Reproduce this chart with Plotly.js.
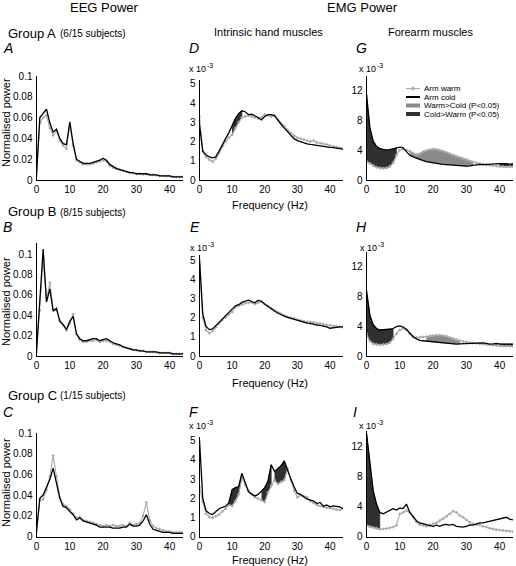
<!DOCTYPE html>
<html>
<head>
<meta charset="utf-8">
<script src="https://cdn.plot.ly/plotly-3.0.1.min.js"></script>
<style>html,body{margin:0;padding:0;background:#fff;}#chart{width:516px;height:566px;}</style>
</head>
<body>
<div id="chart"></div>
<script>
// Frequency bins (Hz)
const freq = [0,1,2,3,4,5,6,7,8,9,10,11,12,13,14,15,16,17,18,19,20,21,22,23,24,25,26,27,28,29,30,31,32,33,34,35,36,37,38,39,40,41,42,43,44];

// EEG power (normalised) — Group A
const eegA_warm = [0.005,0.055,0.06,0.062,0.05,0.043,0.047,0.038,0.033,0.03,0.053,0.033,0.019,0.017,0.015,0.015,0.015,0.016,0.017,0.018,0.019,0.018,0.014,0.012,0.011,0.01,0.009,0.008,0.007,0.0065,0.006,0.006,0.0055,0.0055,0.005,0.005,0.0045,0.004,0.004,0.0035,0.0035,0.003,0.003,0.003,0.003];
const eegA_cold = [0.005,0.06,0.064,0.068,0.055,0.046,0.049,0.04,0.035,0.034,0.056,0.035,0.02,0.018,0.016,0.016,0.016,0.017,0.018,0.019,0.021,0.019,0.015,0.013,0.011,0.01,0.009,0.008,0.007,0.007,0.006,0.006,0.006,0.006,0.005,0.005,0.005,0.004,0.004,0.004,0.004,0.003,0.003,0.003,0.003];
// Group B
const eegB_warm = [0.004,0.045,0.095,0.055,0.072,0.046,0.045,0.035,0.03,0.025,0.032,0.041,0.021,0.016,0.014,0.014,0.015,0.015,0.016,0.014,0.015,0.015,0.014,0.012,0.011,0.01,0.009,0.008,0.007,0.006,0.0055,0.005,0.005,0.004,0.004,0.004,0.0035,0.003,0.003,0.003,0.003,0.002,0.002,0.002,0.002];
const eegB_cold = [0.004,0.05,0.105,0.053,0.066,0.044,0.047,0.034,0.031,0.026,0.034,0.039,0.022,0.017,0.015,0.015,0.016,0.017,0.017,0.015,0.016,0.017,0.015,0.013,0.012,0.011,0.009,0.008,0.007,0.006,0.006,0.005,0.005,0.004,0.004,0.004,0.004,0.003,0.003,0.003,0.003,0.002,0.002,0.002,0.002];
// Group C
const eegC_warm = [0.005,0.035,0.036,0.045,0.058,0.078,0.058,0.038,0.031,0.029,0.026,0.022,0.018,0.019,0.016,0.015,0.014,0.013,0.012,0.011,0.01,0.011,0.01,0.011,0.01,0.01,0.011,0.01,0.013,0.011,0.012,0.013,0.02,0.033,0.016,0.01,0.008,0.007,0.006,0.005,0.005,0.004,0.004,0.004,0.004];
const eegC_cold = [0.005,0.037,0.04,0.048,0.055,0.066,0.053,0.037,0.029,0.028,0.024,0.021,0.016,0.018,0.015,0.014,0.013,0.012,0.011,0.009,0.009,0.009,0.009,0.008,0.008,0.008,0.009,0.009,0.012,0.01,0.01,0.011,0.015,0.021,0.012,0.007,0.006,0.005,0.004,0.004,0.004,0.003,0.003,0.003,0.003];

// EMG power (x 10^-3) — intrinsic hand muscles
const handA_warm = [3.3,1.5,1.2,1.05,0.95,1.1,1.4,1.75,2.0,2.2,2.35,2.7,3.0,3.25,3.3,3.35,3.3,3.25,3.2,3.25,3.4,3.35,3.3,3.35,3.15,2.95,2.8,2.6,2.45,2.3,2.2,2.15,2.1,2.05,2.0,2.05,1.95,1.92,1.88,1.85,1.8,1.75,1.72,1.68,1.62];
const handA_cold = [2.85,1.5,1.3,1.2,1.15,1.2,1.5,1.85,2.15,2.45,2.8,3.2,3.45,3.6,3.55,3.4,3.42,3.35,3.25,3.12,3.3,3.4,3.4,3.35,3.1,2.9,2.7,2.5,2.3,2.15,2.05,1.98,1.93,1.88,1.85,1.82,1.8,1.78,1.75,1.72,1.7,1.68,1.65,1.62,1.6];
const handB_warm = [4.8,2.0,1.35,1.2,1.3,1.5,1.7,1.88,2.02,2.18,2.3,2.55,2.62,2.7,2.75,2.78,2.8,2.72,2.8,2.85,2.7,2.6,2.48,2.38,2.28,2.2,2.12,2.05,2.0,1.96,1.9,1.86,1.82,1.8,1.78,1.75,1.72,1.7,1.66,1.62,1.6,1.58,1.55,1.52,1.5];
const handB_cold = [5.1,2.2,1.55,1.38,1.42,1.6,1.75,1.92,2.1,2.28,2.45,2.62,2.68,2.8,2.85,2.92,2.85,2.78,2.92,2.85,2.72,2.58,2.45,2.35,2.25,2.15,2.08,2.02,1.97,1.92,1.85,1.8,1.76,1.72,1.7,1.65,1.62,1.6,1.57,1.52,1.45,1.48,1.5,1.52,1.52];
const handC_warm = [2.6,1.8,1.2,1.02,0.98,1.05,1.15,1.3,1.45,1.65,1.6,1.85,2.2,3.1,2.7,2.4,2.25,2.05,1.98,1.9,1.8,2.3,2.65,2.95,2.75,2.85,2.95,3.55,2.95,2.4,2.05,2.15,2.1,2.05,1.85,1.75,1.65,1.6,1.55,1.5,1.48,1.45,1.4,1.38,1.45];
const handC_cold = [5.05,2.0,1.35,1.2,1.15,1.3,1.45,1.52,1.58,1.75,2.45,2.55,2.6,3.3,2.85,2.35,2.2,2.12,2.2,2.35,2.55,2.9,3.75,3.4,3.55,3.7,3.95,3.45,3.0,2.6,2.25,2.2,2.05,1.95,1.9,1.85,1.72,1.78,1.58,1.65,1.55,1.6,1.58,1.55,1.45];

// EMG power (x 10^-3) — forearm muscles
const foreA_warm = [2.5,2.2,1.9,1.7,1.6,1.55,1.6,1.8,2.3,3.3,4.0,4.1,4.0,3.85,3.6,3.4,3.5,3.8,3.95,4.05,4.15,4.1,4.0,3.85,3.7,3.5,3.35,3.15,3.0,2.85,2.7,2.55,2.4,2.3,2.2,2.1,2.0,1.95,1.9,1.85,1.8,1.8,1.75,1.8,1.75];
const foreA_cold = [11.5,7.0,5.2,4.5,4.2,4.05,4.0,4.05,4.15,4.3,4.4,4.3,3.8,3.3,3.1,2.9,2.75,2.6,2.45,2.35,2.25,2.2,2.15,2.1,2.05,2.0,1.95,1.92,1.9,1.88,1.85,1.88,1.95,2.05,2.1,2.05,2.1,2.15,2.1,2.15,2.2,2.15,2.2,2.1,2.15];
const foreB_warm = [3.0,2.0,1.65,1.55,1.5,1.55,1.6,1.8,2.3,3.0,3.5,3.7,3.5,3.0,2.6,2.5,2.5,2.55,2.6,2.7,2.75,2.8,2.8,2.75,2.65,2.5,2.35,2.2,2.05,1.95,1.88,1.8,1.75,1.7,1.65,1.6,1.55,1.5,1.45,1.42,1.38,1.35,1.35,1.33,1.32];
const foreB_cold = [8.8,5.5,4.2,3.7,3.5,3.5,3.5,3.6,3.7,3.95,4.05,3.9,3.6,3.1,2.6,2.3,2.1,2.05,2.0,1.95,1.9,1.85,1.8,1.75,1.7,1.7,1.65,1.6,1.62,1.65,1.68,1.7,1.75,1.8,1.8,1.78,1.7,1.6,1.62,1.68,1.62,1.6,1.62,1.58,1.6];
const foreC_warm = [1.5,1.3,1.2,1.1,0.95,1.0,1.05,1.15,1.25,1.5,3.0,3.2,3.45,3.2,2.6,1.9,1.6,1.45,1.35,1.45,1.7,1.8,2.1,2.35,2.65,3.0,3.35,3.2,2.8,2.55,2.2,1.9,1.7,1.6,1.55,1.35,1.25,1.1,1.0,0.9,0.85,0.8,0.75,0.7,0.65];
const foreC_cold = [13.7,9.6,6.1,4.3,3.2,3.0,3.2,3.4,3.7,3.5,3.8,3.7,4.3,3.2,2.6,2.1,1.8,1.7,1.6,1.5,1.35,1.5,1.35,1.55,1.6,1.5,1.6,1.35,1.25,1.25,1.35,1.55,1.5,1.7,1.8,1.8,1.9,2.0,2.1,2.2,2.3,2.4,2.55,2.3,2.2];

// Significant frequency bands [startIndex, endIndex, direction]
const sigHandA = [[10,13,'cold']];
const sigHandB = [];
const sigHandC = [[9,13,'cold'],[19,22,'cold'],[23,27,'cold']];
const sigForeA = [[0,9,'cold'],[13,32,'warm'],[40,44,'cold']];
const sigForeB = [[0,8,'cold'],[18,28,'warm'],[40,44,'cold']];
const sigForeC = [[0,4,'cold']];

// Tick values / labels
const xTicks = [0,10,20,30,40];
const eegTicks = [0,0.02,0.04,0.06,0.08,0.1];
const eegTickText = ['0','0.02','0.04','0.06','0.08','0.1'];
const handTicks = [0,1,2,3,4,5];
const foreTicks = [0,4,8,12];

const legendLabels = ['Arm warm','Arm cold','Warm>Cold (P<0.05)','Cold>Warm (P<0.05)'];
const groupNames = ['Group A','Group B','Group C'];
const groupCounts = ['(6/15 subjects)','(8/15 subjects)','(1/15 subjects)'];
const panelLetters = ['A','D','G','B','E','H','C','F','I'];

const W = 516, H = 566;
const WARM = '#ababab', COLD = '#000000', FILL_WARM = '#8a8a8a', FILL_COLD = '#303030';
const FONT = 'Liberation Sans, Arial, Helvetica, sans-serif';

const px = v => v / W;
const py = v => 1 - v / H;

const colX = [[36.5,183],[199.5,343],[366.5,513]];
const panels = [
  {w:eegA_warm,c:eegA_cold,sig:[],yr:[0,0.1],yt:eegTicks,ytx:eegTickText,col:0,yd:[76,180]},
  {w:handA_warm,c:handA_cold,sig:sigHandA,yr:[0,5.2],yt:handTicks,col:1,yd:[80,180]},
  {w:foreA_warm,c:foreA_cold,sig:sigForeA,yr:[0,13.9],yt:foreTicks,col:2,yd:[76,180]},
  {w:eegB_warm,c:eegB_cold,sig:[],yr:[0,0.111],yt:eegTicks,ytx:eegTickText,col:0,yd:[243,356]},
  {w:handB_warm,c:handB_cold,sig:sigHandB,yr:[0,5.28],yt:handTicks,col:1,yd:[255,356]},
  {w:foreB_warm,c:foreB_cold,sig:sigForeB,yr:[0,14],yt:foreTicks,col:2,yd:[252,356]},
  {w:eegC_warm,c:eegC_cold,sig:[],yr:[0,0.1],yt:eegTicks,ytx:eegTickText,col:0,yd:[433,536.5]},
  {w:handC_warm,c:handC_cold,sig:sigHandC,yr:[0,5.2],yt:handTicks,col:1,yd:[437,536.5]},
  {w:foreC_warm,c:foreC_cold,sig:sigForeC,yr:[0,14],yt:foreTicks,col:2,yd:[431,536.5]}
];

const traces = [];
const layout = {
  width: W, height: H,
  margin: {l:0,r:0,t:0,b:0},
  paper_bgcolor: '#fff', plot_bgcolor: 'rgba(0,0,0,0)',
  showlegend: false,
  font: {family: FONT, color: '#000', size: 10},
  annotations: [], shapes: []
};

panels.forEach((p, i) => {
  const n = i + 1;
  const xa = n === 1 ? 'x' : 'x' + n, ya = n === 1 ? 'y' : 'y' + n;
  p.sig.forEach(s => {
    const f = freq.slice(s[0], s[1] + 1);
    const wv = p.w.slice(s[0], s[1] + 1);
    const cv = p.c.slice(s[0], s[1] + 1);
    traces.push({
      x: f.concat(f.slice().reverse()),
      y: wv.concat(cv.slice().reverse()),
      xaxis: xa, yaxis: ya, type: 'scatter', mode: 'lines',
      fill: 'toself', fillcolor: s[2] === 'cold' ? FILL_COLD : FILL_WARM,
      line: {width: 0.6, color: s[2] === 'cold' ? FILL_COLD : FILL_WARM},
      hoverinfo: 'skip'
    });
  });
  traces.push({x: freq, y: p.w, xaxis: xa, yaxis: ya, type: 'scatter', mode: 'lines+markers',
    line: {color: WARM, width: 1.1}, marker: {symbol: 'diamond', size: 2.6, color: WARM}, name: 'Arm warm'});
  traces.push({x: freq, y: p.c, xaxis: xa, yaxis: ya, type: 'scatter', mode: 'lines',
    line: {color: COLD, width: 1.3}, name: 'Arm cold'});

  const cx = colX[p.col];
  const axBase = {showgrid: false, zeroline: false, showline: true, linecolor: '#000', linewidth: 1,
    ticks: '', tickfont: {size: 10, family: FONT, color: '#000'}, fixedrange: true};
  layout['xaxis' + (n === 1 ? '' : n)] = Object.assign({}, axBase, {
    domain: [px(cx[0]), px(cx[1])], range: [0, 44], tickvals: xTicks, anchor: ya, ticklabelstandoff: 0
  });
  const yax = Object.assign({}, axBase, {
    domain: [py(p.yd[1]), py(p.yd[0])], range: p.yr, tickvals: p.yt, anchor: xa, ticklabelstandoff: 1
  });
  if (p.ytx) yax.ticktext = p.ytx;
  layout['yaxis' + (n === 1 ? '' : n)] = yax;
});

function ann(text, x, y, opts) {
  layout.annotations.push(Object.assign({
    text: text, xref: 'paper', yref: 'paper', x: px(x), y: py(y), showarrow: false,
    xanchor: 'center', yanchor: 'middle', font: {family: FONT, size: 11, color: '#000'}
  }, opts || {}));
}

ann('EEG Power', 104, 8, {font: {family: FONT, size: 13, color: '#000'}});
ann('EMG Power', 362, 8, {font: {family: FONT, size: 13, color: '#000'}});
ann('Intrinsic hand muscles', 268, 32, {font: {family: FONT, size: 11, color: '#000'}});
ann('Forearm muscles', 430, 32, {font: {family: FONT, size: 11, color: '#000'}});

const groupY = [33.5, 211.5, 395];
groupNames.forEach((g, i) => {
  ann(g, 6, groupY[i], {xanchor: 'left', font: {family: FONT, size: 13, color: '#000'}});
  ann(groupCounts[i], 58, groupY[i] + 0.5, {xanchor: 'left', font: {family: FONT, size: 10, color: '#000'}});
});

const letterPos = [[1,48],[187,48],[354,48],[1,227],[188,227],[354,227],[1,412],[187,412],[351,412]];
panelLetters.forEach((l, i) => ann(l, letterPos[i][0], letterPos[i][1],
  {xanchor: 'left', font: {family: FONT, size: 14, color: '#000', style: 'italic'}}));

const expo = [[187,69],[357,69],[188,248],[358,248],[187,426],[357,426]];
expo.forEach(e => {
  ann('x 10', e[0], e[1], {xanchor: 'left', font: {family: FONT, size: 9, color: '#000'}});
  ann('-3', e[0] + 17.5, e[1] - 3.5, {xanchor: 'left', font: {family: FONT, size: 7, color: '#000'}});
});

[205, 383, 560].forEach(y => ann('Frequency (Hz)', 269.5, y, {font: {family: FONT, size: 11, color: '#000'}}));
[123, 302, 483].forEach(y => ann('Normalised power', 6, y, {textangle: -90, font: {family: FONT, size: 11, color: '#000'}}));

// legend (panel G)
const legY = [88.5, 97, 105.5, 114];
legendLabels.forEach((t, i) => ann(t, 422, legY[i], {xanchor: 'left', font: {family: FONT, size: 8, color: '#000'}}));
layout.shapes.push({type: 'line', xref: 'paper', yref: 'paper', x0: px(406), x1: px(420), y0: py(legY[0]), y1: py(legY[0]), line: {color: WARM, width: 1.1}});
layout.shapes.push({type: 'path', xref: 'paper', yref: 'paper',
  path: 'M ' + px(411) + ' ' + py(legY[0]) + ' L ' + px(413) + ' ' + py(legY[0]-2) + ' L ' + px(415) + ' ' + py(legY[0]) + ' L ' + px(413) + ' ' + py(legY[0]+2) + ' Z',
  fillcolor: WARM, line: {color: WARM, width: 0.5}});
layout.shapes.push({type: 'line', xref: 'paper', yref: 'paper', x0: px(406), x1: px(420), y0: py(legY[1]), y1: py(legY[1]), line: {color: COLD, width: 2}});
layout.shapes.push({type: 'rect', xref: 'paper', yref: 'paper', x0: px(406), x1: px(420), y0: py(legY[2]-2), y1: py(legY[2]+2), fillcolor: FILL_WARM, line: {width: 0}});
layout.shapes.push({type: 'rect', xref: 'paper', yref: 'paper', x0: px(406), x1: px(420), y0: py(legY[3]-2), y1: py(legY[3]+2), fillcolor: FILL_COLD, line: {width: 0}});

Plotly.newPlot('chart', traces, layout, {staticPlot: true, displayModeBar: false});
</script>
</body>
</html>
